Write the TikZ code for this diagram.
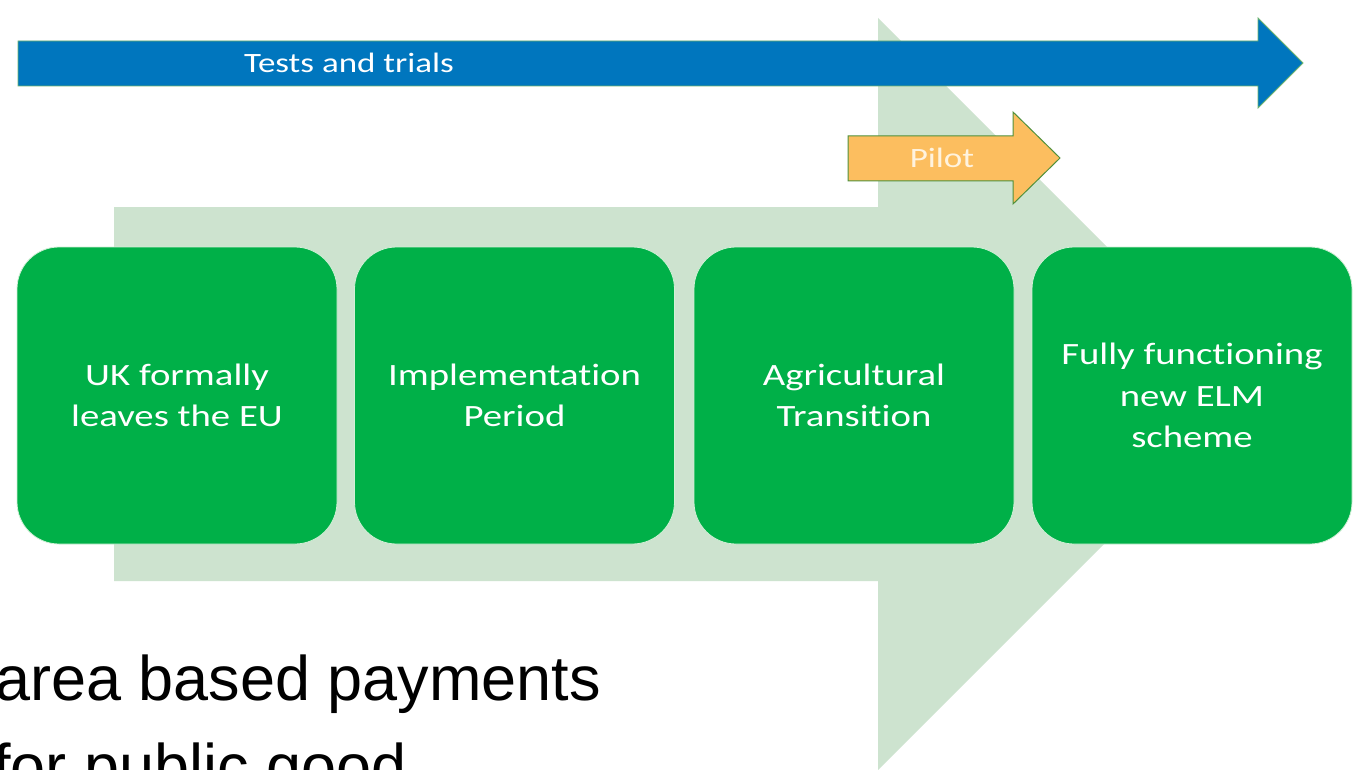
\documentclass[tikz,border=0pt]{standalone}
\usepackage{fontspec}
\setmainfont{Liberation Sans}
\newfontfamily\boxfont[FakeStretch=1.25,Ligatures=NoCommon]{Carlito}
\definecolor{boxgreen}{RGB}{0,176,72}
\definecolor{palegreen}{RGB}{205,227,207}
\definecolor{arrowblue}{RGB}{0,118,190}
\definecolor{pilotorange}{RGB}{252,190,95}
\definecolor{pilotedge}{RGB}{80,145,60}
\definecolor{bluedge}{RGB}{110,180,110}
\definecolor{boxedge}{RGB}{210,240,215}
\definecolor{pilottext}{RGB}{255,243,222}
\tikzset{
  stagebox/.style={draw=boxedge, line width=0.8pt, fill=boxgreen, rounded corners=42pt,
    minimum width=320pt, minimum height=297pt, inner sep=0pt, align=center,
    text=white, font=\boxfont\fontsize{31}{41.5}\selectfont},
  arrowlabel/.style={inner sep=0pt, font=\boxfont\fontsize{28}{34}\selectfont},
  bodytext/.style={anchor=base west, inner sep=0pt, font=\fontsize{63}{75}\selectfont, text=black}
}
\begin{document}
\begin{tikzpicture}[x=1pt,y=-1pt]
\useasboundingbox (0,0) rectangle (1364,770);
\clip (0,0) rectangle (1364,770);
\fill[white] (0,0) rectangle (1364,770);
% big pale arrow
\fill[palegreen] (114,207) -- (878,207) -- (878,18) -- (1254,394) -- (878,770) -- (878,581) -- (114,581) -- cycle;
% blue arrow
\draw[bluedge, line width=0.8pt, fill=arrowblue] (18,41) -- (1258,41) -- (1258,18) -- (1303,63) -- (1258,108) -- (1258,86) -- (18,86) -- cycle;
\node[arrowlabel, text=white] (tests) at (349,63) {Tests and trials};
% pilot arrow
\draw[pilotedge, line width=1pt, fill=pilotorange] (848,136) -- (1013,136) -- (1013,112) -- (1060,158) -- (1013,204) -- (1013,181) -- (848,181) -- cycle;
\node[arrowlabel, text=pilottext] (pilot) at (942,158) {Pilot};
% stage boxes
\node[stagebox] (b1) at (177,395.5) {UK formally\\leaves the EU};
\node[stagebox] (b2) at (514.5,395.5) {Implementation\\Period};
\node[stagebox] (b3) at (854,395.5) {Agricultural\\Transition};
\node[stagebox] (b4) at (1192,395.5) {Fully functioning\\new ELM\\scheme};
% bottom text
\node[bodytext] (t1) at (-5,700) {area based payments};
\node[bodytext] (t2) at (-7,788) {for public good};
\end{tikzpicture}
\end{document}
